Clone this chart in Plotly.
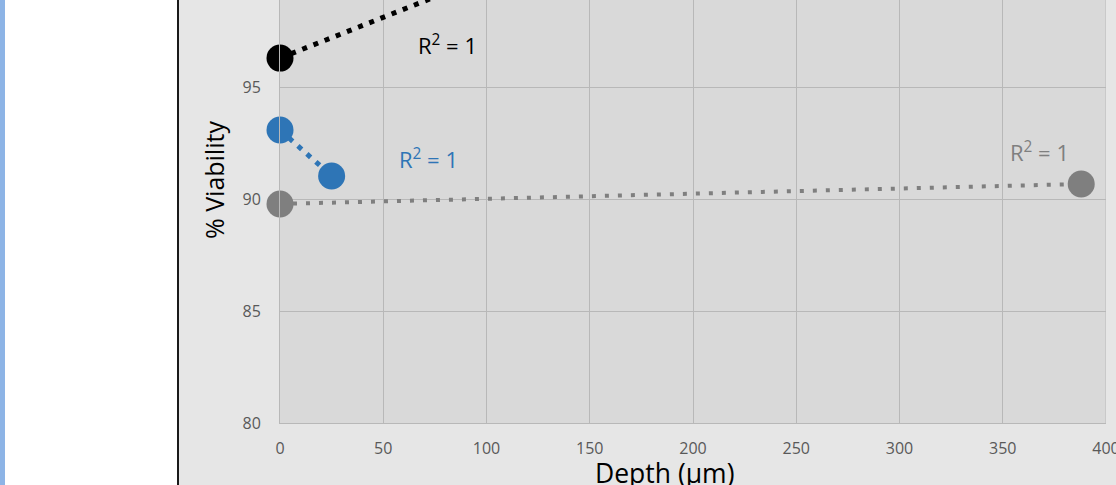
import plotly.graph_objects as go

# ---- data ----
black_depth = [0, 100]
black_viability = [96.29, 99.93]
blue_depth = [0, 25]
blue_viability = [93.08, 91.03]
gray_depth = [0, 388]
gray_viability = [89.78, 90.67]

x_ticks = [0, 50, 100, 150, 200, 250, 300, 350, 400]
y_ticks = [80, 85, 90, 95, 100]

labels = ["R<sup>2</sup> = 1", "R<sup>2</sup> = 1", "R<sup>2</sup> = 1"]
label_x = [81, 72, 368]
label_y = [96.9, 91.83, 92.14]

BLACK = "#000000"
BLUE = "#2e75b6"
GRAY = "#7f7f7f"
FONT = "Open Sans"

fig = go.Figure()

# trendlines (linear fit through two points)
for xs, ys, col, w, dash in [
    (black_depth, black_viability, BLACK, 5, "5px,7px"),
    (blue_depth, blue_viability, BLUE, 5, "5px,7px"),
    (gray_depth, gray_viability, GRAY, 4, "4px,9px"),
]:
    fig.add_trace(go.Scatter(x=xs, y=ys, mode="lines",
                             line=dict(color=col, width=w, dash=dash),
                             showlegend=False, hoverinfo="skip"))

for xs, ys, col in [
    (black_depth, black_viability, BLACK),
    (blue_depth, blue_viability, BLUE),
    (gray_depth, gray_viability, GRAY),
]:
    fig.add_trace(go.Scatter(x=xs, y=ys, mode="markers",
                             marker=dict(color=col, size=27, line=dict(width=0)),
                             showlegend=False, cliponaxis=False))

# R² labels
for txt, lx, ly, col in zip(labels, label_x, label_y, [BLACK, BLUE, GRAY]):
    fig.add_annotation(x=lx, y=ly, xref="x", yref="y", text=txt, showarrow=False,
                       xanchor="center", yanchor="middle",
                       font=dict(family=FONT, size=22, color=col))

L, R, T, B = 280, 10, 0, 62
W, H = 1116, 485
pw = W - L - R
ph = H - T - B

def px_x(p):
    return (p - L) / pw

def px_y(p):
    return 1 - (p - T) / ph

# axis titles
fig.add_annotation(x=px_x(214), y=px_y(180), xref="paper", yref="paper",
                   xanchor="center", yanchor="middle",
                   text="% Viability", textangle=-90, showarrow=False,
                   font=dict(family=FONT, size=25, color="#000000"))
fig.add_annotation(x=px_x(664), y=px_y(453), xref="paper", yref="paper",
                   xanchor="center", yanchor="top", text="Depth (µm)", showarrow=False,
                   font=dict(family=FONT, size=26.5, color="#000000"))

# page decoration: white area, blue strip, black border
fig.add_shape(type="rect", xref="paper", yref="paper",
              x0=px_x(0), x1=px_x(178), y0=px_y(H + 5), y1=px_y(-5),
              fillcolor="#ffffff", line=dict(width=0), layer="below")
fig.add_shape(type="rect", xref="paper", yref="paper",
              x0=px_x(0), x1=px_x(5), y0=px_y(H + 5), y1=px_y(-5),
              fillcolor="#8db4e6", line=dict(width=0), layer="below")
fig.add_shape(type="line", xref="paper", yref="paper",
              x0=px_x(178), x1=px_x(178), y0=px_y(H + 5), y1=px_y(-5),
              line=dict(color="#1a1a1a", width=2), layer="below")
# right border of plot area (gridline at 400)
fig.add_shape(type="line", xref="x", yref="paper", x0=400, x1=400, y0=0, y1=1,
              line=dict(color="#b8b8b8", width=1), layer="below")

fig.update_layout(
    template="none",
    width=W, height=H,
    margin=dict(l=L, r=R, t=T, b=B, pad=0),
    paper_bgcolor="#e6e6e6",
    plot_bgcolor="#d9d9d9",
    showlegend=False,
    font=dict(family=FONT, color="#595959"),
)
fig.update_xaxes(range=[0, 400], tickvals=x_ticks, ticktext=[str(v) for v in x_ticks],
                 showgrid=True, gridcolor="#b8b8b8", gridwidth=1,
                 showline=True, linecolor="#b8b8b8", linewidth=1,
                 ticks="outside", ticklen=11, tickcolor="rgba(0,0,0,0)",
                 tickfont=dict(family=FONT, size=16, color="#595959"),
                 ticklabeloverflow="allow",
                 zeroline=False, automargin=False, fixedrange=True)
fig.update_yaxes(range=[80, 80 + ph / 22.4], tickvals=y_ticks, ticktext=[str(v) for v in y_ticks],
                 showgrid=True, gridcolor="#b8b8b8", gridwidth=1,
                 showline=True, linecolor="#b8b8b8", linewidth=1,
                 ticks="outside", ticklen=15, tickcolor="rgba(0,0,0,0)",
                 tickfont=dict(family=FONT, size=16, color="#595959"),
                 zeroline=False, automargin=False, fixedrange=True)

fig.write_html("out.html", config=dict(displayModeBar=False),
               post_script="document.body.style.margin='0';document.body.style.overflow='hidden';")
